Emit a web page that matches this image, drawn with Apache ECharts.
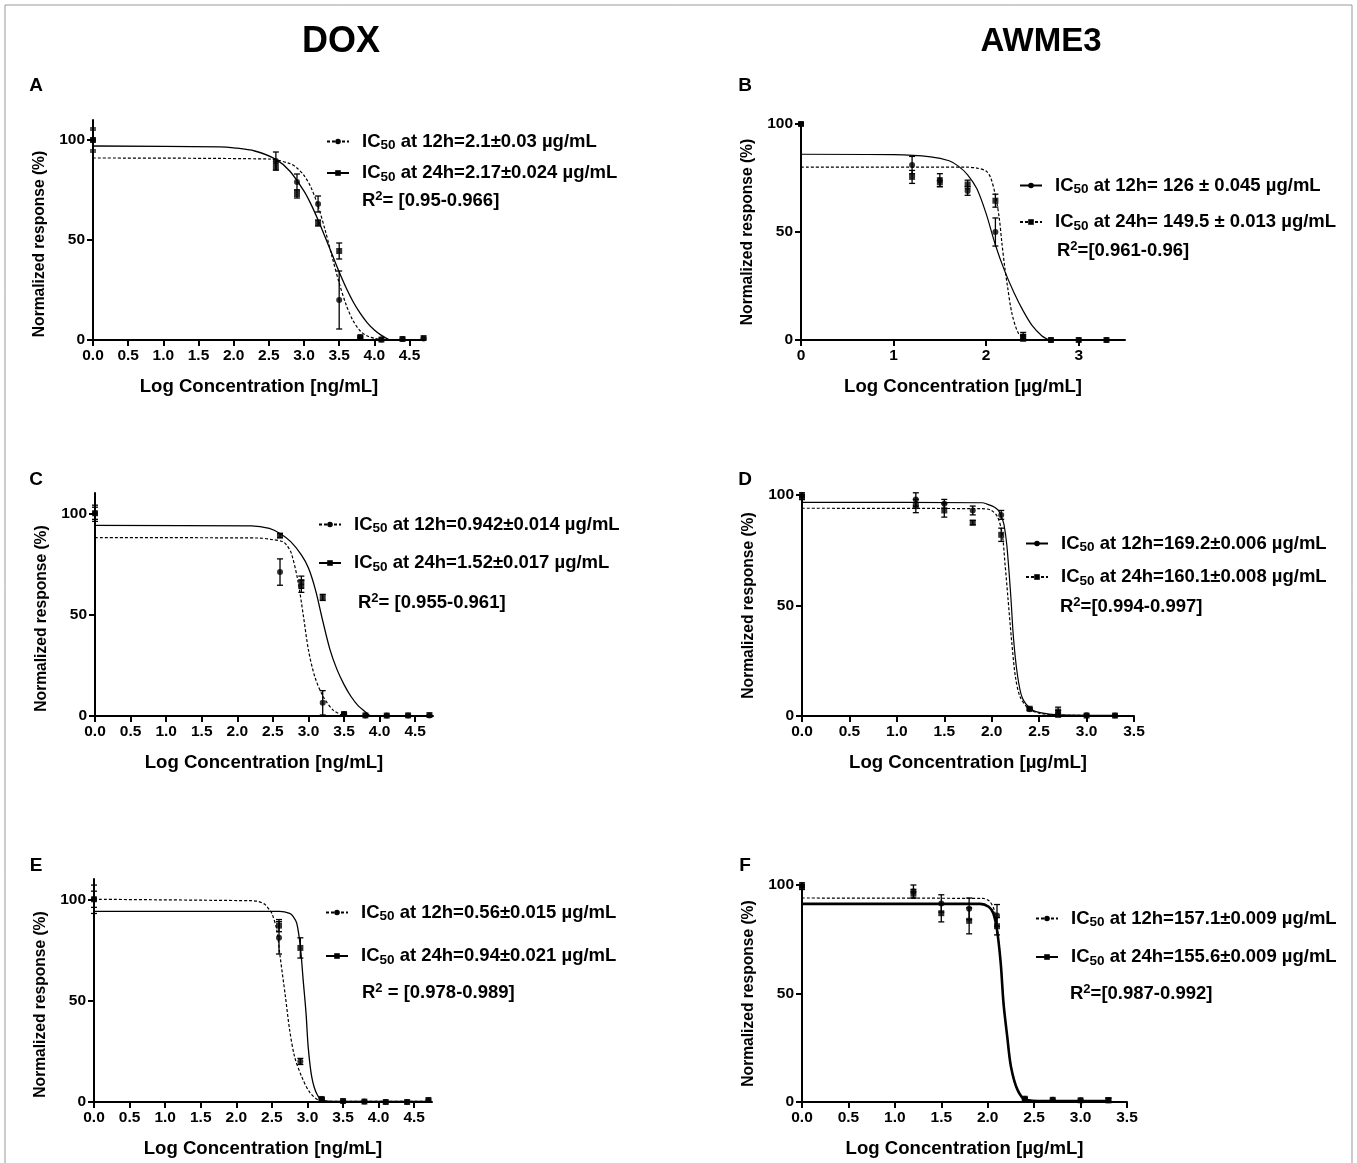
<!DOCTYPE html>
<html>
<head>
<meta charset="utf-8">
<script src="https://cdn.jsdelivr.net/npm/echarts@6/dist/echarts.min.js"></script>
<style>
  html, body { margin: 0; background: #fff; }
  #chart { width: 1357px; height: 1163px; }
</style>
</head>
<body>
<div id="chart"></div>
<script>
const FONT = '"Liberation Sans", Arial, sans-serif';

// log concentrations of the tested doses (0 = control)
const doseDox = [0, 2.6, 2.9, 3.2, 3.5, 3.8, 4.1, 4.4, 4.7];
const doseAwme = [0, 1.2, 1.5, 1.8, 2.1, 2.4, 2.7, 3.0, 3.3];

// tick labels
const doxTicks = [0, 0.5, 1, 1.5, 2, 2.5, 3, 3.5, 4, 4.5];
const awmeTicksB = [0, 1, 2, 3];
const awmeTicks = [0, 0.5, 1, 1.5, 2, 2.5, 3, 3.5];
const yTicks = [0, 50, 100];

// measured responses (mean) and error (sd)
const respA12 = [100, 89.5, 79, 68, 20, 1.5, 0.3, 0.5, 0.8];
const errA12 = [5, 4.5, 4, 4, 14.5, 1, 0, 0, 0];
const respA24 = [100, 87, 73, 58.5, 44.5, 1, 0.2, 0.5, 1];
const errA24 = [6, 2, 2, 1.5, 4, 0.5, 0, 0, 0];

const respB12 = [100, 81, 74, 69, 50, 1.5, 0, 0, 0];
const errB12 = [0.5, 4, 3, 2, 6.5, 1, 0, 0, 0];
const respB24 = [100, 75.5, 73, 72, 64.5, 1.5, 0, 0, 0];
const errB24 = [0.5, 3, 2, 2, 3, 2, 0, 0, 0];

const respC12 = [100, 71, 64, 6.5, 1, 0.3, 0.2, 0.2, 0.3];
const errC12 = [4, 6.5, 3, 6, 0.5, 0, 0, 0, 0];
const respC24 = [100, 89, 66, 58.5, 1, 0.3, 0.2, 0.3, 0.5];
const errC24 = [3, 1, 3, 1.5, 0.5, 0, 0, 0, 0];

const respD12 = [100, 98, 96, 93, 91, 3, 1, 0.3, 0.2];
const errD12 = [1, 3, 2, 2, 2, 0.5, 1.5, 0, 0];
const respD24 = [99, 95, 93, 87.5, 82, 3.3, 2, 0.2, 0.2];
const errD24 = [1, 3, 3, 1, 3, 0.5, 2, 0, 0];

const respE12 = [100, 81, 20, 1.5, 0.5, 0.2, 0, 0, 1];
const errE12 = [7, 8, 1.5, 0.5, 0, 0, 0, 0, 0];
const respE24 = [100, 87, 76, 1.5, 0.5, 0.2, 0, 0, 1];
const errE24 = [4, 3, 5, 0.5, 0, 0, 0, 0, 0];

const respF12 = [100, 97, 91.5, 89, 86, 1.5, 1, 0.8, 0.8];
const errF12 = [1, 3, 4, 5, 5, 0.5, 0, 0, 1];
const respF24 = [99, 96, 87, 83.5, 81, 1.5, 1, 0.8, 0.8];
const errF24 = [1, 2, 4, 6, 4, 0.5, 0, 0, 1];

// fitted dose-response curves
const fitA12 = [[0, 91], [2.5, 90.5], [2.8, 88.2], [2.9, 86], [3.0, 82.3], [3.1, 76.2], [3.2, 67], [3.3, 55], [3.4, 41.5], [3.5, 28.5], [3.6, 17.5], [3.7, 9.5], [3.8, 4.5], [3.9, 2], [4.0, 0.8], [4.1, 0]];
const fitA24 = [[0, 97], [1.8, 96.6], [2.0, 96.1], [2.3, 94.5], [2.6, 90.3], [2.8, 84.4], [3.0, 74.4], [3.1, 67.8], [3.2, 60], [3.3, 51.5], [3.4, 42.7], [3.5, 34], [3.6, 26], [3.7, 19], [3.8, 13.3], [3.9, 8.6], [4.0, 5], [4.1, 2.3], [4.22, 0]];
const fitB12 = [[0, 86], [1.0, 85.8], [1.4, 84.8], [1.6, 83], [1.7, 80.5], [1.8, 76.5], [1.9, 70], [2.0, 58.5], [2.1, 44], [2.2, 32], [2.3, 22], [2.4, 13.5], [2.5, 6.5], [2.6, 2], [2.68, 0]];
const fitB24 = [[0, 80], [1.8, 80], [1.9, 79.6], [2.0, 78.2], [2.05, 75], [2.1, 67], [2.14, 57], [2.17, 45], [2.2, 34], [2.23, 25], [2.28, 12], [2.35, 3], [2.43, 0]];
const fitC12 = [[0, 88], [2.3, 87.8], [2.46, 87.2], [2.64, 86], [2.7, 84], [2.76, 80.2], [2.85, 67], [2.93, 49], [3.0, 32.5], [3.09, 19.3], [3.21, 9.4], [3.35, 2.8], [3.5, 0]];
const fitC24 = [[0, 94], [2.2, 93.8], [2.45, 92.5], [2.6, 90], [2.75, 86], [2.9, 79.5], [3.0, 73], [3.1, 62], [3.2, 47], [3.3, 33], [3.4, 23], [3.5, 15.5], [3.6, 9.5], [3.7, 5], [3.8, 2], [3.87, 0]];
const fitD12 = [[0, 96.7], [1.9, 96.5], [1.95, 95.9], [2.03, 94.5], [2.07, 93], [2.1, 90.5], [2.13, 86.5], [2.16, 77], [2.2, 55], [2.23, 35], [2.27, 19], [2.32, 8.5], [2.41, 3.3], [2.51, 1.5], [2.7, 0.5], [3.3, 0.3]];
const fitD24 = [[0, 94], [1.9, 93.8], [1.99, 93.2], [2.06, 90.2], [2.11, 82.6], [2.14, 69], [2.17, 54], [2.21, 34], [2.25, 17.7], [2.3, 8.6], [2.39, 3.3], [2.5, 1.3], [2.7, 0.4], [3.3, 0.2]];
const fitE12 = [[0, 100], [2.2, 99.3], [2.3, 99], [2.4, 97.5], [2.45, 95.5], [2.5, 93], [2.57, 84.8], [2.61, 73.3], [2.69, 52], [2.75, 35.4], [2.82, 22.2], [2.92, 12.4], [3.03, 4.9], [3.17, 0.8], [3.4, 0.3], [4.7, 0.3]];
const fitE24 = [[0, 94], [2.61, 94], [2.75, 93], [2.8, 91.5], [2.85, 88.1], [2.9, 76.6], [2.94, 60], [2.98, 43.7], [3.01, 27.2], [3.06, 12.4], [3.13, 4.1], [3.22, 0.8], [3.4, 0.3], [4.7, 0.3]];
const fitF12 = [[0, 94], [1.95, 93.8], [2.02, 92.5], [2.07, 88.5], [2.1, 81], [2.14, 65], [2.17, 46], [2.21, 30], [2.25, 16], [2.32, 5.5], [2.41, 1], [2.6, 0.4], [3.3, 0.4]];
const fitF24 = [[0, 91.3], [1.92, 91.3], [2.01, 90], [2.06, 87], [2.1, 79.3], [2.14, 64], [2.17, 45.6], [2.21, 30.2], [2.25, 16.4], [2.32, 5.7], [2.41, 1], [2.6, 0.4], [3.3, 0.4]];

// legend / annotation texts
const legendText = {
  A12: ' at 12h=2.1±0.03 µg/mL', A24: ' at 24h=2.17±0.024 µg/mL',
  B12: ' at 12h= 126 ± 0.045 µg/mL', B24: ' at 24h= 149.5 ± 0.013 µg/mL',
  C12: ' at 12h=0.942±0.014 µg/mL', C24: ' at 24h=1.52±0.017 µg/mL',
  D12: ' at 12h=169.2±0.006 µg/mL', D24: ' at 24h=160.1±0.008 µg/mL',
  E12: ' at 12h=0.56±0.015 µg/mL', E24: ' at 24h=0.94±0.021 µg/mL',
  F12: ' at 12h=157.1±0.009 µg/mL', F24: ' at 24h=155.6±0.009 µg/mL'
};
const r2Text = {
  A: '= [0.95-0.966]', B: '=[0.961-0.96]', C: '= [0.955-0.961]',
  D: '=[0.994-0.997]', E: ' = [0.978-0.989]', F: '=[0.987-0.992]'
};

const DOT = [3, 2];
const panels = [
  { id: 'A', grid: [93, 120, 332, 220], xMax: 4.72, yMax: 110, ticks: doxTicks, dec: 1, unit: 'ng/mL', dose: doseDox,
    r12: respA12, e12: errA12, r24: respA24, e24: errA24, f12: fitA12, f24: fitA24, s12: DOT, s24: 'solid', w24: 1.3,
    lg: [326, 132, 11], r2: [362, 190] },
  { id: 'B', grid: [801, 124, 324, 216], xMax: 3.5, yMax: 100, ticks: awmeTicksB, dec: 0, unit: 'µg/mL', dose: doseAwme,
    r12: respB12, e12: errB12, r24: respB24, e24: errB24, f12: fitB12, f24: fitB24, s12: 'solid', s24: DOT, w24: 1.2,
    lg: [1019, 176, 16], r2: [1057, 240] },
  { id: 'C', grid: [95, 493, 338, 223], xMax: 4.75, yMax: 110, ticks: doxTicks, dec: 1, unit: 'ng/mL', dose: doseDox,
    r12: respC12, e12: errC12, r24: respC24, e24: errC24, f12: fitC12, f24: fitC24, s12: DOT, s24: 'solid', w24: 1.3,
    lg: [318, 515, 18], r2: [358, 592] },
  { id: 'D', grid: [802, 495, 332, 221], xMax: 3.5, yMax: 100, ticks: awmeTicks, dec: 1, unit: 'µg/mL', dose: doseAwme,
    r12: respD12, e12: errD12, r24: respD24, e24: errD24, f12: fitD12, f24: fitD24, s12: 'solid', s24: DOT, w24: 1.2,
    lg: [1025, 534, 13], r2: [1060, 596] },
  { id: 'E', grid: [94, 879, 338, 223], xMax: 4.75, yMax: 110, ticks: doxTicks, dec: 1, unit: 'ng/mL', dose: doseDox,
    r12: respE12, e12: errE12, r24: respE24, e24: errE24, f12: fitE12, f24: fitE24, s12: DOT, s24: 'solid', w24: 1.3,
    lg: [325, 903, 23], r2: [362, 982] },
  { id: 'F', grid: [802, 885, 325, 217], xMax: 3.5, yMax: 100, ticks: awmeTicks, dec: 1, unit: 'µg/mL', dose: doseAwme,
    r12: respF12, e12: errF12, r24: respF24, e24: errF24, f12: fitF12, f24: fitF24, s12: DOT, s24: 'solid', w24: 2.6,
    lg: [1035, 909, 18], r2: [1070, 983] }
];

const txt = { fontFamily: FONT, fontWeight: 'bold', color: '#000' };
const rich = {
  f: Object.assign({ fontSize: 18.5, lineHeight: 22, padding: [0, 0, 0, 8] }, txt),
  t: Object.assign({ fontSize: 18.5, lineHeight: 22 }, txt),
  s: Object.assign({ fontSize: 13.5, verticalAlign: 'bottom' }, txt),
  u: Object.assign({ fontSize: 13, verticalAlign: 'top' }, txt)
};

function errRender(params, api) {
  const x = api.value(0);
  const top = api.coord([x, api.value(2)]);
  const bot = api.coord([x, api.value(1)]);
  const st = { stroke: '#000', lineWidth: 1.3 };
  return {
    type: 'group',
    children: [
      { type: 'line', shape: { x1: top[0], y1: top[1], x2: bot[0], y2: bot[1] }, style: st },
      { type: 'line', shape: { x1: top[0] - 3, y1: top[1], x2: top[0] + 3, y2: top[1] }, style: st },
      { type: 'line', shape: { x1: bot[0] - 3, y1: bot[1], x2: bot[0] + 3, y2: bot[1] }, style: st }
    ]
  };
}

const grids = [], xAxes = [], yAxes = [], legends = [], series = [];
const graphics = [
  { type: 'rect', shape: { x: 5, y: 5, width: 1347, height: 1170 }, style: { fill: 'none', stroke: '#999', lineWidth: 1 }, silent: true },
  { type: 'text', x: 341, y: 42, style: { text: 'DOX', fontSize: 36, align: 'center', verticalAlign: 'middle', fontFamily: FONT, fontWeight: 'bold', fill: '#000' } },
  { type: 'text', x: 1041, y: 42, style: { text: 'AWME3', fontSize: 33, align: 'center', verticalAlign: 'middle', fontFamily: FONT, fontWeight: 'bold', fill: '#000' } }
];
const letterPos = { A: [36, 86], B: [745, 86], C: [36, 480], D: [745, 480], E: [36, 866], F: [745, 866] };

panels.forEach((p, i) => {
  grids.push({ left: p.grid[0], top: p.grid[1], width: p.grid[2], height: p.grid[3] });
  xAxes.push({
    gridIndex: i, type: 'value', min: 0, max: p.xMax,
    name: 'Log Concentration [' + p.unit + ']', nameLocation: 'middle', nameGap: 37,
    nameTextStyle: Object.assign({ fontSize: 18.6 }, txt),
    axisLine: { onZero: false, lineStyle: { color: '#000', width: 2 } },
    axisTick: { customValues: p.ticks, length: 6, lineStyle: { color: '#000', width: 2 } },
    axisLabel: Object.assign({ customValues: p.ticks, fontSize: 15.5, margin: 8, formatter: v => v.toFixed(p.dec) }, txt),
    splitLine: { show: false }
  });
  yAxes.push({
    gridIndex: i, type: 'value', min: 0, max: p.yMax,
    name: 'Normalized response (%)', nameLocation: 'middle', nameGap: 45,
    nameTextStyle: Object.assign({ fontSize: 15.6, padding: p.yMax > 100 ? [0, 28, 0, 0] : 0 }, txt),
    axisLine: { onZero: false, lineStyle: { color: '#000', width: 2 } },
    axisTick: { customValues: yTicks, length: 6, lineStyle: { color: '#000', width: 2 } },
    axisLabel: Object.assign({ customValues: yTicks, fontSize: 15.5, margin: 8 }, txt),
    splitLine: { show: false }
  });
  legends.push({
    orient: 'vertical', left: p.lg[0], top: p.lg[1], itemGap: p.lg[2], padding: 0,
    itemWidth: 22, itemHeight: 7, selectedMode: false,
    data: [p.id + '12', p.id + '24'],
    formatter: n => '{f|IC}{s|50}{t|' + legendText[n] + '}',
    textStyle: { rich: rich }
  });
  graphics.push({ type: 'text', left: p.r2[0], top: p.r2[1],
    style: { text: '{t|R}{u|2}{t|' + r2Text[p.id] + '}', rich: rich } });
  graphics.push({ type: 'text', x: letterPos[p.id][0], y: letterPos[p.id][1],
    style: { text: p.id, fontSize: 19, align: 'center', verticalAlign: 'middle', fontFamily: FONT, fontWeight: 'bold', fill: '#000' } });

  [['12', p.f12, p.r12, p.e12, p.s12, 1.2, 'circle'], ['24', p.f24, p.r24, p.e24, p.s24, p.w24, 'rect']].forEach(h => {
    const [tag, fit, resp, err, style, width, sym] = h;
    series.push({
      name: p.id + tag, type: 'line', xAxisIndex: i, yAxisIndex: i, data: fit,
      smooth: 0.3, showSymbol: false, symbol: sym, silent: true, z: 2,
      lineStyle: { color: '#000', width: width, type: style },
      itemStyle: { color: '#000' }
    });
    series.push({
      type: 'custom', xAxisIndex: i, yAxisIndex: i, renderItem: errRender, z: 3, silent: true,
      data: p.dose.map((d, k) => [d, resp[k] - err[k], resp[k] + err[k]]).filter((r, k) => err[k] > 0)
    });
    series.push({
      type: 'scatter', xAxisIndex: i, yAxisIndex: i, symbol: sym, symbolSize: 6, z: 4, silent: true,
      itemStyle: { color: '#000' },
      data: p.dose.map((d, k) => [d, resp[k]])
    });
  });
});

const chart = echarts.init(document.getElementById('chart'));
chart.setOption({
  backgroundColor: '#fff',
  animation: false,
  grid: grids,
  xAxis: xAxes,
  yAxis: yAxes,
  legend: legends,
  graphic: graphics,
  series: series
});
</script>
</body>
</html>
